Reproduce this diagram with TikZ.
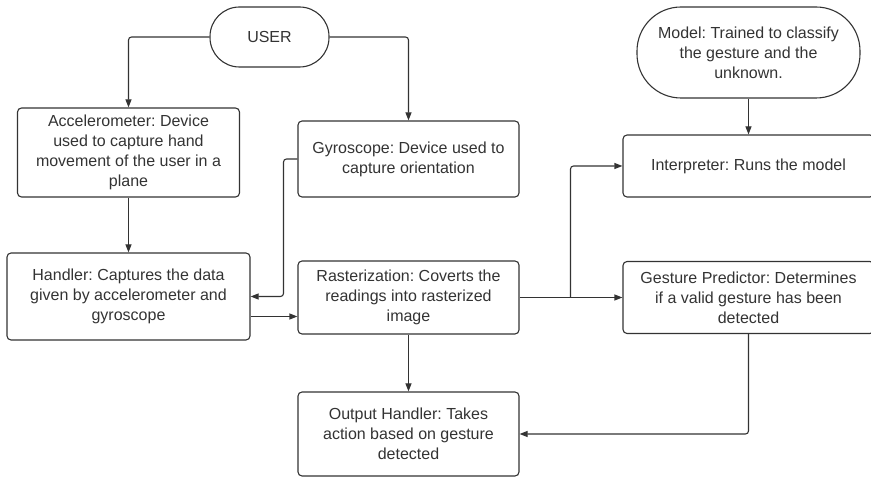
\documentclass[tikz,border=0pt]{standalone}
\usepackage{fontspec}
\setmainfont{Liberation Sans}
\frenchspacing
\usetikzlibrary{arrows.meta}
\definecolor{ink}{HTML}{333333}
\begin{document}
\begin{tikzpicture}[x=1pt,y=-1pt,
  box/.style={draw=ink, line width=1.1pt, rounded corners=4pt, align=center,
    inner sep=0pt, text=ink, font=\fontsize{16}{20}\selectfont},
  flow/.style={draw=ink, line width=1.1pt, rounded corners=3pt,
    -{Triangle[length=8pt,width=6pt]}}]
\useasboundingbox (0,0) rectangle (871,478);

% terminals
\node[box, minimum width=119, minimum height=60, rounded corners=29.5pt] (user) at (269.5,37) {USER};
\node[box, minimum width=223, minimum height=91, rounded corners=44pt] (model) at (748.5,52.5)
  {Model: Trained to classify\\the gesture and the\\unknown.};

% process boxes
\node[box, minimum width=222, minimum height=89] (acc) at (128.5,152.5)
  {Accelerometer: Device\\used to capture hand\\movement of the user in a\\plane};
\node[box, minimum width=221, minimum height=76] (gyro) at (408.5,159)
  {Gyroscope: Device used to\\capture orientation};
\node[box, minimum width=251, minimum height=62] (interp) at (748.5,166)
  {Interpreter: Runs the model};
\node[box, minimum width=243, minimum height=87] (hand) at (128.5,296.5)
  {Handler: Captures the data\\given by accelerometer and\\gyroscope};
\node[box, minimum width=221, minimum height=73] (rast) at (408.5,297.5)
  {Rasterization: Coverts the\\readings into rasterized\\image};
\node[box, minimum width=251, minimum height=72] (gest) at (748.5,297.5)
  {Gesture Predictor: Determines\\if a valid gesture has been\\detected};
\node[box, minimum width=221, minimum height=84] (out) at (408.5,434)
  {Output Handler: Takes\\action based on gesture\\detected};

% connectors
\draw[flow] (user.west) -| (acc.north);
\draw[flow] (user.east) -| (gyro.north);
\draw[flow] (acc.south) -- (acc.south |- hand.north);
\draw[flow] (gyro.west) -| (283.5,0 |- hand.east) -- (hand.east);
\draw[flow] (hand.east |- 0,316.5) -- (rast.west |- 0,316.5);
\draw[flow] (rast.east) -- (rast.east -| gest.west);
\coordinate (split) at (rast.east -| 570.5,0);
\draw[flow] (split) |- (interp.west);
\draw[flow] (model.south) -- (model.south |- interp.north);
\draw[flow] (rast.south) -- (rast.south |- out.north);
\draw[flow] (gest.south) |- (out.east);
\end{tikzpicture}
\end{document}
